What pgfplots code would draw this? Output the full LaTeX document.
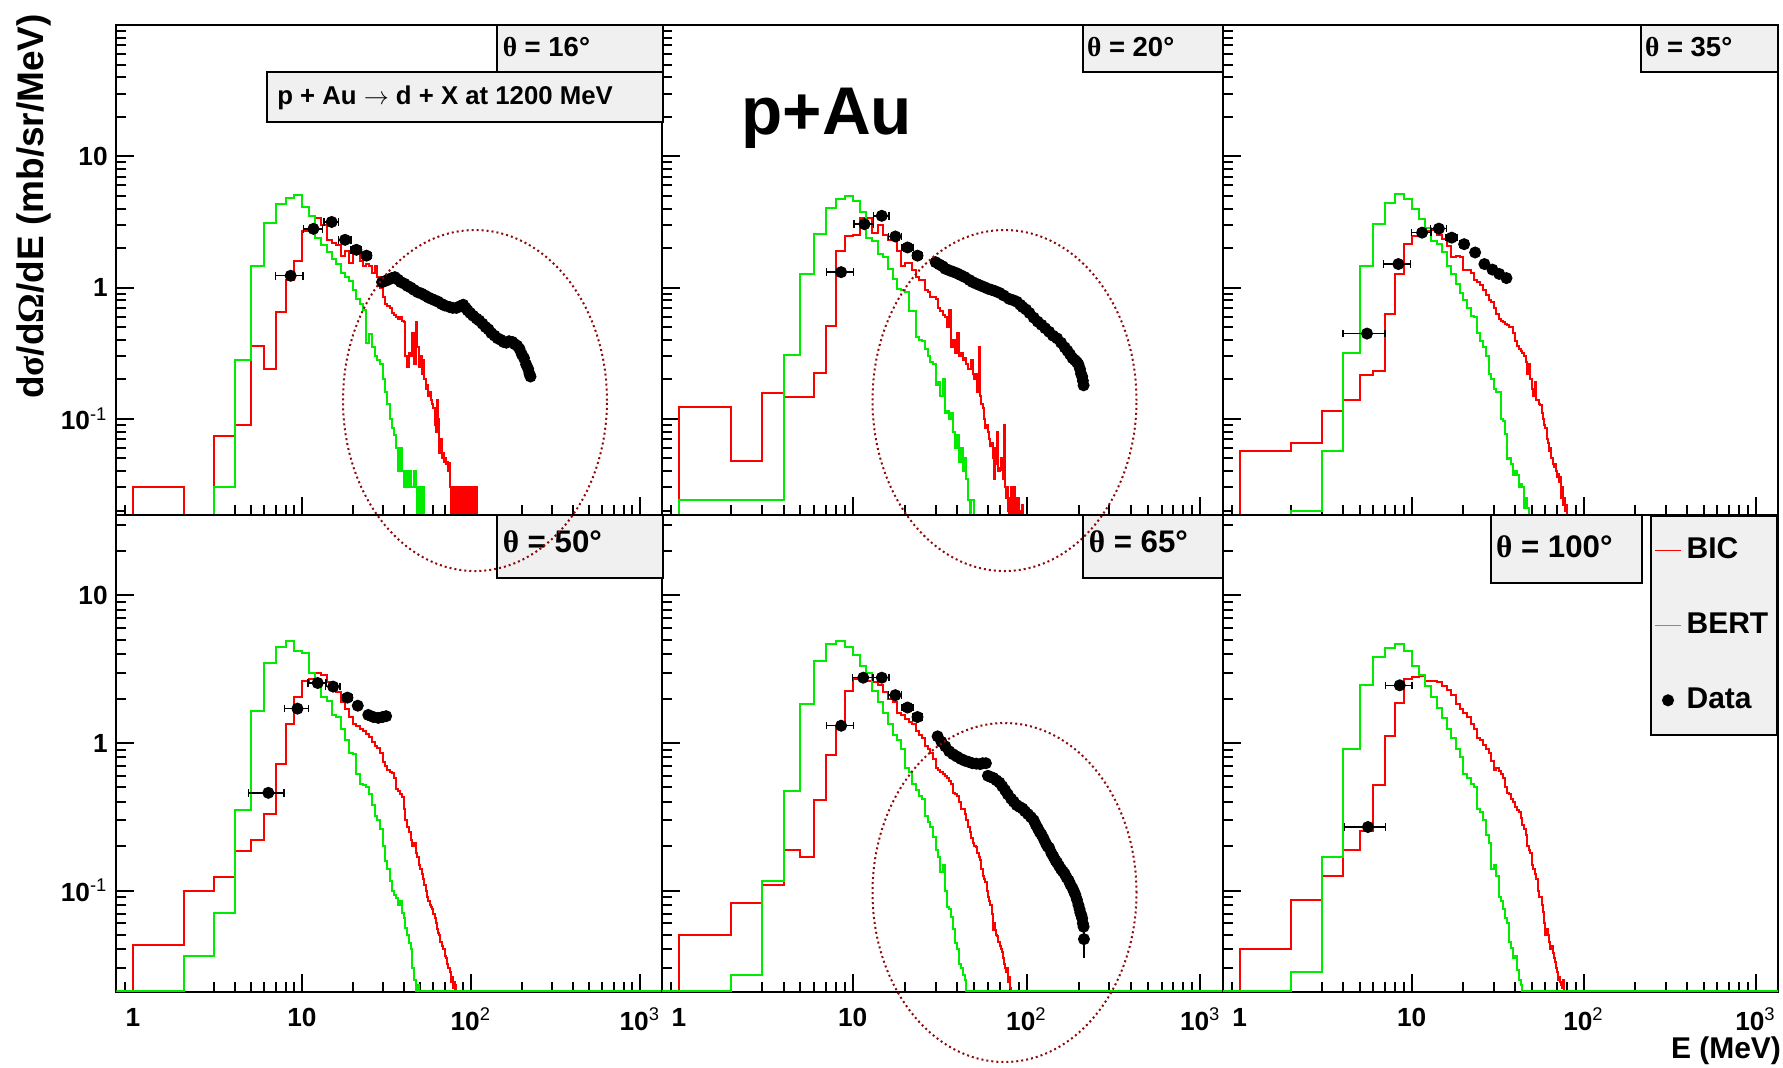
\documentclass[border=0pt]{standalone}
\usepackage{fontspec}
\setmainfont{Liberation Sans}
\newfontfamily\thetafont{Liberation Serif}
\usepackage{pgfplots}
\pgfplotsset{compat=1.18}
\definecolor{bic}{RGB}{255,0,0}
\definecolor{bert}{RGB}{0,235,0}
\definecolor{ellc}{RGB}{140,10,10}
\definecolor{boxfill}{RGB}{240,240,240}

\begin{document}
\begin{tikzpicture}
\path[use as bounding box] (0,0) rectangle (713.2pt,-426.8pt);

% ---------------- theta = 16 ----------------
\begin{axis}[scale only axis, xmode=log, ymode=log, xmin=0.8, xmax=1350,
  ymin=0.0185, ymax=100, width=218.2pt, height=196pt,
  at={(46.6pt,-206pt)}, anchor=south west,
  axis line style={line width=0.8pt}, tick align=inside, tick pos=left,
  major tick length=7.2pt, minor tick length=4pt, tick style={black, line width=0.8pt},
  xtick={1,10,100,1000},
  minor xtick={0.9,2,3,4,5,6,7,8,9,20,30,40,50,60,70,80,90,200,300,400,500,600,700,800,900},
  ytick={0.1,1,10},
  minor ytick={0.02,0.03,0.04,0.05,0.06,0.07,0.08,0.09,0.2,0.3,0.4,0.5,0.6,0.7,0.8,0.9,2,3,4,5,6,7,8,9,20,30,40,50,60,70,80,90},
  xticklabels={}, yticklabels={10\textsuperscript{\mdseries -1},1,10},
  tick label style={font=\bfseries\fontsize{10.5}{12}\selectfont}]
\addplot[const plot mark left, line width=0.8pt, mark=none, bic] coordinates {(0.5,0.001)(1,0.030)(2,0.001)(3,0.074)(4,0.09)(5,0.36)(6,0.24)(7,0.65)(8,1.15)(9,1.6)(10,2.7)(11,2.8)(12,3.4)(13,3.0)(14,2.3)(15,2.2)(16,2.1)(17,1.75)(18,1.9)(19,1.55)(20,1.9)(21,2.0)(22,1.6)(23,1.45)(24,1.5)(25,1.45)(26,1.3)(27,1.45)(28,1.2)(29,1.0)(30,0.85)(31,0.75)(32,0.72)(33,0.7)(34,0.64)(35,0.62)(36,0.6)(37,0.58)(38,0.6)(39,0.56)(40,0.55)(41,0.3)(42,0.25)(43,0.32)(44,0.3)(45,0.45)(46,0.26)(47,0.55)(48,0.35)(49,0.25)(50,0.3)(51,0.22)(52,0.28)(53,0.2)(54,0.17)(55,0.18)(56,0.15)(57,0.16)(58,0.14)(59,0.13)(60,0.12)(61,0.09)(62,0.08)(63,0.14)(64,0.1)(65,0.055)(66,0.07)(67,0.05)(68,0.055)(69,0.047)(70,0.05)(71,0.045)(72,0.047)(73,0.04)(74,0.046)(75,0.03)(76,0.001)(77,0.03)(78,0.001)(79,0.03)(80,0.03)(81,0.001)(82,0.03)(83,0.001)(84,0.03)(85,0.001)(86,0.03)(87,0.001)(88,0.03)(89,0.001)(90,0.03)(91,0.001)(92,0.03)(93,0.03)(94,0.001)(95,0.03)(96,0.001)(97,0.03)(98,0.001)(99,0.03)(100,0.001)(101,0.03)(102,0.001)(103,0.03)(104,0.001)(105,0.03)(106,0.001)(107,0.03)(108,0.001)};
\addplot[const plot mark left, line width=0.8pt, mark=none, bert] coordinates {(0.5,0.001)(3,0.030)(4,0.28)(5,1.47)(6,3.1)(7,4.3)(8,4.8)(9,5.1)(10,4.1)(11,3.5)(12,2.4)(13,2.1)(14,1.85)(15,1.65)(16,1.5)(17,1.3)(18,1.2)(19,1.13)(20,0.95)(21,0.82)(22,0.75)(23,0.67)(24,0.38)(25,0.44)(26,0.35)(27,0.30)(28,0.28)(29,0.26)(30,0.20)(31,0.16)(32,0.13)(33,0.10)(34,0.085)(35,0.075)(36,0.06)(37,0.04)(38,0.06)(39,0.04)(40,0.03)(41,0.04)(42,0.03)(43,0.04)(44,0.03)(45,0.03)(46,0.04)(47,0.03)(48,0.001)(49,0.03)(50,0.001)(51,0.03)(52,0.03)(53,0.001)};
\addplot[only marks, mark=*, mark size=2.2pt, black, error bars/.cd, x dir=both, x explicit,
  error bar style={line width=0.6pt, black}, error mark options={rotate=90, line width=0.6pt, mark size=1.5pt, black}]
  table[x error=ex] {
x y ex
8.58 1.23 1.6
11.7 2.8 1.5
15.0 3.16 1.5
18.0 2.31 1.5
21.0 1.94 1.5
24.1 1.75 1.5
};
\addplot[only marks, mark=*, mark size=2.2pt, black] table {
x y
29.8 1.1
31 1.12
32.5 1.15
34 1.18
35.5 1.2
37 1.15
38.5 1.1
40.4 1.07
42 1.03
44 1.0
46 0.96
48.6 0.92
51 0.9
53.5 0.87
56 0.84
58.5 0.82
61 0.8
64 0.78
67 0.75
70 0.73
74.9 0.71
78 0.7
82 0.7
86 0.72
90 0.74
93 0.7
95.6 0.67
99 0.64
103 0.61
108 0.58
112 0.56
117 0.53
122 0.5
127 0.48
132 0.45
138 0.43
144 0.41
150 0.4
156 0.385
162 0.38
168 0.39
176 0.385
182 0.37
188 0.36
194 0.34
200 0.31
206 0.29
212 0.26
218 0.24
222 0.22
225 0.21
};
\end{axis}

% ---------------- theta = 20 ----------------
\begin{axis}[scale only axis, xmode=log, ymode=log, xmin=0.8, xmax=1350,
  ymin=0.0185, ymax=100, width=224.4pt, height=196pt,
  at={(264.8pt,-206pt)}, anchor=south west,
  axis line style={line width=0.8pt}, tick align=inside, tick pos=left,
  major tick length=7.2pt, minor tick length=4pt, tick style={black, line width=0.8pt},
  xtick={1,10,100,1000},
  minor xtick={0.9,2,3,4,5,6,7,8,9,20,30,40,50,60,70,80,90,200,300,400,500,600,700,800,900},
  ytick={0.1,1,10},
  minor ytick={0.02,0.03,0.04,0.05,0.06,0.07,0.08,0.09,0.2,0.3,0.4,0.5,0.6,0.7,0.8,0.9,2,3,4,5,6,7,8,9,20,30,40,50,60,70,80,90},
  xticklabels={}, yticklabels={}]
\addplot[const plot mark left, line width=0.8pt, mark=none, bic] coordinates {(0.5,0.001)(1,0.122)(2,0.0475)(3,0.157)(4,0.146)(5,0.146)(6,0.222)(7,0.51)(8,1.91)(9,2.48)(10,2.5)(11,3.4)(12,3.4)(13,2.6)(14,3.0)(15,2.5)(16,2.3)(17,2.3)(18,1.9)(19,1.47)(20,1.55)(21,1.55)(22,1.35)(23,1.2)(24,1.15)(25,1.15)(26,0.95)(27,0.93)(28,0.85)(29,0.85)(30,0.82)(31,0.7)(32,0.66)(33,0.62)(34,0.6)(35,0.5)(36,0.68)(37,0.35)(38,0.4)(39,0.32)(40,0.45)(41,0.3)(42,0.32)(43,0.28)(44,0.29)(45,0.26)(46,0.24)(47,0.24)(48,0.28)(49,0.22)(50,0.2)(51,0.22)(52,0.16)(53,0.35)(54,0.15)(55,0.13)(56,0.12)(57,0.1)(58,0.085)(59,0.09)(60,0.08)(61,0.07)(62,0.062)(63,0.065)(64,0.05)(65,0.035)(66,0.06)(67,0.045)(68,0.08)(69,0.04)(70,0.042)(71,0.05)(72,0.041)(73,0.035)(74,0.09)(75,0.03)(76,0.025)(77,0.03)(78,0.02)(79,0.001)(80,0.025)(81,0.03)(82,0.001)(83,0.025)(84,0.001)(85,0.03)(86,0.001)(87,0.025)(88,0.02)(89,0.001)(90,0.025)(91,0.001)(92,0.02)(93,0.001)(94,0.022)(95,0.001)};
\addplot[const plot mark left, line width=0.8pt, mark=none, bert] coordinates {(0.5,0.001)(1,0.024)(4,0.305)(5,1.27)(6,2.55)(7,4.06)(8,4.7)(9,4.98)(10,4.56)(11,3.79)(12,2.4)(13,2.27)(14,1.8)(15,1.7)(16,1.39)(17,1.16)(18,0.98)(19,0.96)(20,0.93)(21,0.66)(22,0.66)(23,0.42)(24,0.40)(25,0.39)(26,0.34)(27,0.3)(28,0.27)(29,0.26)(30,0.18)(31,0.19)(32,0.15)(33,0.2)(34,0.11)(35,0.115)(36,0.1)(37,0.11)(38,0.08)(39,0.06)(40,0.075)(41,0.047)(42,0.06)(43,0.04)(44,0.05)(45,0.035)(46,0.024)(47,0.001)(48,0.024)(49,0.024)(50,0.001)};
\addplot[only marks, mark=*, mark size=2.2pt, black, error bars/.cd, x dir=both, x explicit,
  error bar style={line width=0.6pt, black}, error mark options={rotate=90, line width=0.6pt, mark size=1.5pt, black}]
  table[x error=ex] {
x y ex
8.58 1.31 1.5
11.7 3.04 1.5
14.7 3.52 1.5
17.6 2.45 1.5
20.7 2.02 1.5
23.6 1.75 1.5
};
\addplot[only marks, mark=*, mark size=2.2pt, black] table {
x y
30 1.56
31.5 1.5
33 1.45
34.1 1.39
36 1.35
37.8 1.32
40 1.28
42 1.24
44.2 1.2
47 1.14
49 1.1
51.4 1.07
54 1.04
57 1.01
60 0.98
63 0.96
66 0.94
70 0.91
74 0.87
79.5 0.82
84 0.8
88 0.78
92 0.74
95 0.71
99.5 0.68
104 0.64
110 0.59
116 0.55
122 0.52
128 0.49
135 0.46
142 0.43
150 0.41
158 0.38
166 0.35
172 0.33
178 0.31
184 0.29
190 0.28
195 0.27
199 0.26
203 0.24
206 0.22
209 0.21
211 0.195
213 0.18
};
\end{axis}

% ---------------- theta = 35 ----------------
\begin{axis}[scale only axis, xmode=log, ymode=log, xmin=0.8, xmax=1350,
  ymin=0.0185, ymax=100, width=222pt, height=196pt,
  at={(489.2pt,-206pt)}, anchor=south west,
  axis line style={line width=0.8pt}, tick align=inside, tick pos=left,
  major tick length=7.2pt, minor tick length=4pt, tick style={black, line width=0.8pt},
  xtick={1,10,100,1000},
  minor xtick={0.9,2,3,4,5,6,7,8,9,20,30,40,50,60,70,80,90,200,300,400,500,600,700,800,900},
  ytick={0.1,1,10},
  minor ytick={0.02,0.03,0.04,0.05,0.06,0.07,0.08,0.09,0.2,0.3,0.4,0.5,0.6,0.7,0.8,0.9,2,3,4,5,6,7,8,9,20,30,40,50,60,70,80,90},
  xticklabels={}, yticklabels={}]
\addplot[const plot mark left, line width=0.8pt, mark=none, bic] coordinates {(0.5,0.001)(1,0.057)(2,0.065)(3,0.115)(4,0.14)(5,0.215)(6,0.23)(7,0.63)(8,1.27)(9,2.14)(10,2.48)(11,2.79)(12,2.7)(13,2.75)(14,2.5)(15,2.34)(16,2.08)(17,1.7)(18,1.75)(19,1.72)(20,1.35)(21,1.35)(22,1.3)(23,1.15)(24,1.1)(25,1.05)(26,0.95)(27,0.88)(28,0.8)(29,0.78)(30,0.7)(31,0.63)(32,0.58)(33,0.56)(34,0.55)(35,0.53)(36,0.52)(37,0.5)(38,0.5)(39,0.45)(40,0.39)(41,0.36)(42,0.34)(43,0.33)(44,0.32)(45,0.3)(46,0.27)(47,0.22)(48,0.26)(49,0.2)(50,0.17)(51,0.15)(52,0.19)(53,0.14)(54,0.14)(55,0.13)(56,0.128)(57,0.11)(58,0.1)(59,0.09)(60,0.085)(61,0.07)(62,0.065)(63,0.057)(64,0.06)(65,0.05)(66,0.045)(67,0.043)(68,0.045)(69,0.04)(70,0.036)(71,0.038)(72,0.033)(73,0.036)(74,0.025)(75,0.03)(76,0.022)(77,0.025)(78,0.02)(79,0.022)(80,0.001)};
\addplot[const plot mark left, line width=0.8pt, mark=none, bert] coordinates {(0.5,0.001)(2,0.02)(3,0.057)(4,0.32)(5,1.47)(6,3.03)(7,4.43)(8,5.13)(9,4.7)(10,4.0)(11,3.3)(12,2.86)(13,2.27)(14,2.14)(15,1.85)(16,1.47)(17,1.27)(18,1.07)(19,0.91)(20,0.8)(21,0.7)(22,0.61)(23,0.6)(24,0.45)(25,0.39)(26,0.35)(27,0.3)(28,0.22)(29,0.2)(30,0.17)(31,0.16)(32,0.16)(33,0.1)(34,0.096)(35,0.076)(36,0.049)(37,0.05)(38,0.045)(39,0.037)(40,0.04)(41,0.037)(42,0.03)(43,0.032)(44,0.03)(45,0.021)(46,0.025)(47,0.021)(48,0.001)};
\addplot[only marks, mark=*, mark size=2.2pt, black, error bars/.cd, x dir=both, x explicit,
  error bar style={line width=0.6pt, black}, error mark options={rotate=90, line width=0.6pt, mark size=1.5pt, black}]
  table[x error=ex] {
x y ex
5.5 0.446 1.5
8.37 1.51 1.5
11.5 2.62 1.5
14.4 2.81 1.5
17.1 2.4 1.3
20.2 2.14 1.2
23.4 1.85 1.0
26.5 1.51 0.8
29.5 1.37 0.8
32.3 1.27 0.8
35.6 1.18 0.8
};
\end{axis}

% ---------------- theta = 50 ----------------
\begin{axis}[scale only axis, xmode=log, ymode=log, xmin=0.8, xmax=1350,
  ymin=0.0207, ymax=35, width=218.2pt, height=190.68pt,
  at={(46.6pt,-396.68pt)}, anchor=south west,
  axis line style={line width=0.8pt}, tick align=inside, tick pos=left,
  major tick length=7.2pt, minor tick length=4pt, tick style={black, line width=0.8pt},
  xtick={1,10,100,1000},
  minor xtick={0.9,2,3,4,5,6,7,8,9,20,30,40,50,60,70,80,90,200,300,400,500,600,700,800,900},
  ytick={0.1,1,10},
  minor ytick={0.03,0.04,0.05,0.06,0.07,0.08,0.09,0.2,0.3,0.4,0.5,0.6,0.7,0.8,0.9,2,3,4,5,6,7,8,9,20,30},
  xticklabels={1,10,10\textsuperscript{\mdseries 2},10\textsuperscript{\mdseries 3}},
  yticklabels={10\textsuperscript{\mdseries -1},1,10},
  tick label style={font=\bfseries\fontsize{10.5}{12}\selectfont},
  xticklabel style={yshift=-3pt}]
\addplot[const plot mark left, line width=0.8pt, mark=none, bic] coordinates {(0.5,0.021)(1,0.043)(2,0.1)(3,0.124)(4,0.187)(5,0.22)(6,0.33)(7,0.72)(8,1.35)(9,2.05)(10,2.65)(11,2.7)(12,3.0)(13,2.9)(14,2.6)(15,2.37)(16,2.2)(17,1.89)(18,1.7)(19,1.5)(20,1.35)(21,1.3)(22,1.25)(23,1.2)(24,1.15)(25,1.1)(26,1.02)(27,0.96)(28,0.93)(29,0.85)(30,0.74)(31,0.7)(32,0.66)(33,0.64)(34,0.63)(35,0.58)(36,0.49)(37,0.47)(38,0.45)(39,0.43)(40,0.36)(41,0.3)(42,0.27)(43,0.25)(44,0.22)(45,0.2)(46,0.21)(47,0.18)(48,0.17)(49,0.15)(50,0.14)(51,0.13)(52,0.12)(53,0.11)(54,0.1)(55,0.09)(56,0.085)(57,0.08)(58,0.078)(59,0.075)(60,0.07)(61,0.065)(62,0.06)(63,0.055)(64,0.052)(65,0.05)(66,0.045)(67,0.042)(68,0.04)(69,0.04)(70,0.036)(71,0.035)(72,0.032)(73,0.03)(74,0.03)(75,0.028)(76,0.024)(77,0.026)(78,0.022)(79,0.024)(80,0.021)(81,0.023)(82,0.021)(2000,0.021)};
\addplot[const plot mark left, line width=0.8pt, mark=none, bert] coordinates {(0.5,0.021)(2,0.036)(3,0.071)(4,0.35)(5,1.64)(6,3.47)(7,4.46)(8,4.93)(9,4.17)(10,4.1)(11,2.97)(12,2.44)(13,2.06)(14,1.93)(15,1.55)(16,1.5)(17,1.24)(18,1.05)(19,0.86)(20,0.84)(21,0.62)(22,0.53)(23,0.52)(24,0.5)(25,0.45)(26,0.38)(27,0.32)(28,0.3)(29,0.26)(30,0.2)(31,0.16)(32,0.14)(33,0.117)(34,0.1)(35,0.094)(36,0.089)(37,0.08)(38,0.085)(39,0.071)(40,0.065)(41,0.056)(42,0.05)(43,0.044)(44,0.04)(45,0.03)(46,0.025)(47,0.021)(48,0.023)(49,0.021)(2000,0.021)};
\addplot[only marks, mark=*, mark size=2.2pt, black, error bars/.cd, x dir=both, x explicit,
  error bar style={line width=0.6pt, black}, error mark options={rotate=90, line width=0.6pt, mark size=1.5pt, black}]
  table[x error=ex] {
x y ex
6.33 0.46 1.5
9.41 1.71 1.5
12.4 2.55 1.5
15.3 2.41 1.5
18.6 2.03 1.2
21.4 1.79 1.0
24.7 1.55 0.8
26.5 1.5 0.8
28.3 1.48 0.8
30 1.5 0.8
31.5 1.52 0.8
};
\end{axis}

% ---------------- theta = 65 ----------------
\begin{axis}[scale only axis, xmode=log, ymode=log, xmin=0.8, xmax=1350,
  ymin=0.0207, ymax=35, width=224.4pt, height=190.68pt,
  at={(264.8pt,-396.68pt)}, anchor=south west,
  axis line style={line width=0.8pt}, tick align=inside, tick pos=left,
  major tick length=7.2pt, minor tick length=4pt, tick style={black, line width=0.8pt},
  xtick={1,10,100,1000},
  minor xtick={0.9,2,3,4,5,6,7,8,9,20,30,40,50,60,70,80,90,200,300,400,500,600,700,800,900},
  ytick={0.1,1,10},
  minor ytick={0.03,0.04,0.05,0.06,0.07,0.08,0.09,0.2,0.3,0.4,0.5,0.6,0.7,0.8,0.9,2,3,4,5,6,7,8,9,20,30},
  xticklabels={1,10,10\textsuperscript{\mdseries 2},10\textsuperscript{\mdseries 3}},
  yticklabels={},
  tick label style={font=\bfseries\fontsize{10.5}{12}\selectfont},
  xticklabel style={yshift=-3pt}]
\addplot[const plot mark left, line width=0.8pt, mark=none, bic] coordinates {(0.5,0.021)(1,0.05)(2,0.082)(3,0.11)(4,0.19)(5,0.17)(6,0.41)(7,0.83)(8,1.31)(9,2.24)(10,2.73)(11,2.73)(12,2.65)(13,2.6)(14,2.47)(15,2.2)(16,2.0)(17,1.89)(18,1.6)(19,1.56)(20,1.45)(21,1.39)(22,1.35)(23,1.2)(24,1.14)(25,1.08)(26,0.95)(27,0.91)(28,0.86)(29,0.78)(30,0.68)(31,0.66)(32,0.64)(33,0.62)(34,0.6)(35,0.58)(36,0.55)(37,0.53)(38,0.46)(39,0.45)(40,0.435)(41,0.4)(42,0.357)(43,0.36)(44,0.33)(45,0.3)(46,0.27)(47,0.25)(48,0.228)(49,0.21)(50,0.2)(51,0.198)(52,0.18)(53,0.17)(54,0.162)(55,0.14)(56,0.126)(57,0.12)(58,0.114)(59,0.1)(60,0.09)(61,0.085)(62,0.08)(63,0.07)(64,0.054)(65,0.06)(66,0.054)(67,0.05)(68,0.049)(69,0.045)(70,0.042)(71,0.04)(72,0.0385)(73,0.035)(74,0.032)(75,0.03)(76,0.028)(77,0.03)(78,0.024)(79,0.026)(80,0.022)(81,0.021)(2000,0.021)};
\addplot[const plot mark left, line width=0.8pt, mark=none, bert] coordinates {(0.5,0.021)(2,0.0267)(3,0.116)(4,0.47)(5,1.84)(6,3.61)(7,4.67)(8,4.93)(9,4.5)(10,3.94)(11,3.32)(12,3.0)(13,2.24)(14,1.89)(15,1.6)(16,1.35)(17,1.14)(18,1.05)(19,0.91)(20,0.68)(21,0.64)(22,0.53)(23,0.48)(24,0.44)(25,0.42)(26,0.32)(27,0.29)(28,0.27)(29,0.23)(30,0.19)(31,0.17)(32,0.134)(33,0.15)(34,0.1)(35,0.078)(36,0.075)(37,0.066)(38,0.055)(39,0.044)(40,0.04)(41,0.032)(42,0.03)(43,0.027)(44,0.025)(45,0.021)(2000,0.021)};
\addplot[only marks, mark=*, mark size=2.2pt, black, error bars/.cd, x dir=both, x explicit,
  error bar style={line width=0.6pt, black}, error mark options={rotate=90, line width=0.6pt, mark size=1.5pt, black}]
  table[x error=ex] {
x y ex
8.58 1.31 1.5
11.5 2.77 1.5
14.7 2.77 1.5
17.6 2.11 1.5
20.7 1.74 1.5
23.6 1.5 1.5
};
\addplot[only marks, mark=*, mark size=2.2pt, black] table {
x y
30.8 1.11
32.4 1.02
34.1 0.95
35.9 0.88
37.8 0.84
39.8 0.81
42 0.78
44.1 0.76
46.5 0.745
48.8 0.73
51.4 0.725
54.1 0.72
56 0.73
58.4 0.73
60 0.6
62 0.59
64.5 0.58
67 0.56
69.9 0.54
72.5 0.51
75.3 0.48
78 0.45
81.5 0.42
84.5 0.4
87.8 0.38
91 0.37
94.9 0.36
98 0.345
102 0.33
106 0.315
110 0.3
113 0.28
116 0.265
119 0.25
122 0.24
125.5 0.225
129 0.21
132 0.2
135 0.195
139 0.18
143 0.17
147 0.16
150 0.155
154 0.147
158 0.14
162 0.135
166 0.13
170 0.123
175 0.117
179 0.11
184 0.104
188 0.098
191 0.094
195 0.087
199 0.08
202 0.075
204 0.071
207 0.068
209 0.065
211 0.06
213 0.057
};
\addplot[only marks, mark=*, mark size=2.2pt, black, error bars/.cd, y dir=both, y explicit,
  error bar style={line width=0.6pt, black}, error mark options={line width=0.6pt, mark size=1.5pt, black}]
  table[y error=ey] {
x y ey
214 0.047 0.01
};
\end{axis}

% ---------------- theta = 100 ----------------
\begin{axis}[scale only axis, xmode=log, ymode=log, xmin=0.8, xmax=1350,
  ymin=0.0207, ymax=35, width=222pt, height=190.68pt,
  at={(489.2pt,-396.68pt)}, anchor=south west,
  axis line style={line width=0.8pt}, tick align=inside, tick pos=left,
  major tick length=7.2pt, minor tick length=4pt, tick style={black, line width=0.8pt},
  xtick={1,10,100,1000},
  minor xtick={0.9,2,3,4,5,6,7,8,9,20,30,40,50,60,70,80,90,200,300,400,500,600,700,800,900},
  ytick={0.1,1,10},
  minor ytick={0.03,0.04,0.05,0.06,0.07,0.08,0.09,0.2,0.3,0.4,0.5,0.6,0.7,0.8,0.9,2,3,4,5,6,7,8,9,20,30},
  xticklabels={1,10,10\textsuperscript{\mdseries 2},10\textsuperscript{\mdseries 3}},
  yticklabels={},
  tick label style={font=\bfseries\fontsize{10.5}{12}\selectfont},
  xticklabel style={yshift=-3pt},
  legend style={at={(1,1)}, anchor=north east, draw=black, line width=0.8pt,
    fill=boxfill, inner xsep=1.5pt, inner ysep=6.8pt, row sep=16.2pt,
    font=\bfseries\fontsize{12}{14}\selectfont},
  legend cell align=left,
  legend image code/.code={\draw[mark repeat=2,mark phase=2,#1] plot coordinates {(0pt,0pt) (5.2pt,0pt) (10.4pt,0pt)};}]
\addlegendimage{bic, line width=0.45pt}
\addlegendentry{BIC}
\addlegendimage{bert, line width=0.45pt}
\addlegendentry{BERT}
\addlegendimage{only marks, mark=*, mark size=2pt, black}
\addlegendentry{Data}
\addplot[const plot mark left, line width=0.8pt, mark=none, bic, forget plot] coordinates {(0.5,0.021)(1,0.04)(2,0.087)(3,0.126)(4,0.19)(5,0.255)(6,0.52)(7,1.12)(8,1.86)(9,2.73)(10,2.8)(11,2.83)(12,2.65)(13,2.65)(14,2.6)(15,2.45)(16,2.3)(17,2.11)(18,1.83)(19,1.7)(20,1.6)(21,1.5)(22,1.35)(23,1.24)(24,1.08)(25,1.05)(26,0.97)(27,0.91)(28,0.86)(29,0.75)(30,0.66)(31,0.68)(32,0.645)(33,0.62)(34,0.58)(35,0.5)(36,0.46)(37,0.45)(38,0.42)(39,0.4)(40,0.37)(41,0.35)(42,0.34)(43,0.31)(44,0.28)(45,0.26)(46,0.24)(47,0.2)(48,0.19)(49,0.18)(50,0.15)(51,0.14)(52,0.13)(53,0.12)(54,0.1)(55,0.09)(56,0.09)(57,0.08)(58,0.072)(59,0.06)(60,0.05)(61,0.055)(62,0.05)(63,0.045)(64,0.04)(65,0.042)(66,0.038)(67,0.035)(68,0.033)(69,0.03)(70,0.028)(71,0.025)(72,0.026)(73,0.024)(74,0.023)(75,0.022)(76,0.025)(77,0.021)(2000,0.021)};
\addplot[const plot mark left, line width=0.8pt, mark=none, bert, forget plot] coordinates {(0.5,0.021)(2,0.028)(3,0.169)(4,0.91)(5,2.46)(6,3.83)(7,4.4)(8,4.67)(9,4.2)(10,3.32)(11,2.9)(12,2.44)(13,2.06)(14,1.74)(15,1.47)(16,1.24)(17,1.08)(18,0.91)(19,0.81)(20,0.62)(21,0.58)(22,0.53)(23,0.5)(24,0.36)(25,0.34)(26,0.3)(27,0.24)(28,0.21)(29,0.14)(30,0.15)(31,0.126)(32,0.09)(33,0.085)(34,0.075)(35,0.065)(36,0.06)(37,0.045)(38,0.041)(39,0.035)(40,0.036)(41,0.029)(42,0.025)(43,0.023)(44,0.021)(2000,0.021)};
\addplot[only marks, mark=*, mark size=2.2pt, black, forget plot, error bars/.cd, x dir=both, x explicit,
  error bar style={line width=0.6pt, black}, error mark options={rotate=90, line width=0.6pt, mark size=1.5pt, black}]
  table[x error=ex] {
x y ex
5.57 0.27 1.5
8.53 2.46 1.5
};
\end{axis}

% ---------------- text boxes ----------------
\tikzset{tbox/.style={draw=black, line width=0.8pt, fill=boxfill}}
\draw[tbox] (198.8pt,-10pt) rectangle (265.2pt,-28.8pt);
\node[anchor=west, inner sep=0pt, font=\bfseries\fontsize{11}{13}\selectfont] at (200.9pt,-18.8pt) {{\thetafont θ} = 16°};
\draw[tbox] (106.8pt,-28.8pt) rectangle (265.2pt,-48.8pt);
\node[anchor=west, inner sep=0pt, font=\bfseries\fontsize{10.3}{12}\selectfont] at (110.7pt,-39.1pt) {p + Au $\rightarrow$ d + X at 1200 MeV};
\draw[tbox] (433.2pt,-10pt) rectangle (489.2pt,-28.8pt);
\node[anchor=west, inner sep=0pt, font=\bfseries\fontsize{11}{13}\selectfont] at (434.6pt,-18.8pt) {{\thetafont θ} = 20°};
\draw[tbox] (656.4pt,-10pt) rectangle (711.2pt,-28.8pt);
\node[anchor=west, inner sep=0pt, font=\bfseries\fontsize{11}{13}\selectfont] at (657.8pt,-18.8pt) {{\thetafont θ} = 35°};
\draw[tbox] (198.8pt,-206pt) rectangle (265.2pt,-231.2pt);
\node[anchor=west, inner sep=0pt, font=\bfseries\fontsize{12.5}{14}\selectfont] at (200.9pt,-216.6pt) {{\thetafont θ} = 50°};
\draw[tbox] (433.2pt,-206pt) rectangle (489.2pt,-231.2pt);
\node[anchor=west, inner sep=0pt, font=\bfseries\fontsize{12.5}{14}\selectfont] at (435.3pt,-216.6pt) {{\thetafont θ} = 65°};
\draw[tbox] (596.4pt,-206pt) rectangle (656.7pt,-233.2pt);
\node[anchor=west, inner sep=0pt, font=\bfseries\fontsize{12.5}{14}\selectfont] at (598.2pt,-218.8pt) {{\thetafont θ} = 100°};

% ---------------- titles ----------------
\node[anchor=base west, inner sep=0pt, font=\bfseries\fontsize{27}{30}\selectfont] at (296.4pt,-53.6pt) {p+Au};
\node[rotate=90, anchor=east, inner sep=0pt, font=\bfseries\fontsize{14.8}{16}\selectfont] at (13.6pt,-5.4pt) {d{\thetafont σ}/d{\thetafont Ω}/dE (mb/sr/MeV)};
\node[anchor=base east, inner sep=0pt, font=\bfseries\fontsize{12}{14}\selectfont] at (712.6pt,-423.2pt) {E (MeV)};

% ---------------- ellipses ----------------
\draw[ellc, line width=0.8pt, dash pattern=on 0.8pt off 1.2pt] (190pt,-160.2pt) ellipse [x radius=52.8pt, y radius=68.2pt];
\draw[ellc, line width=0.8pt, dash pattern=on 0.8pt off 1.2pt] (401.8pt,-160.2pt) ellipse [x radius=52.8pt, y radius=68.2pt];
\draw[ellc, line width=0.8pt, dash pattern=on 0.8pt off 1.2pt] (401.8pt,-357pt) ellipse [x radius=52.8pt, y radius=67.8pt];
\end{tikzpicture}
\end{document}
